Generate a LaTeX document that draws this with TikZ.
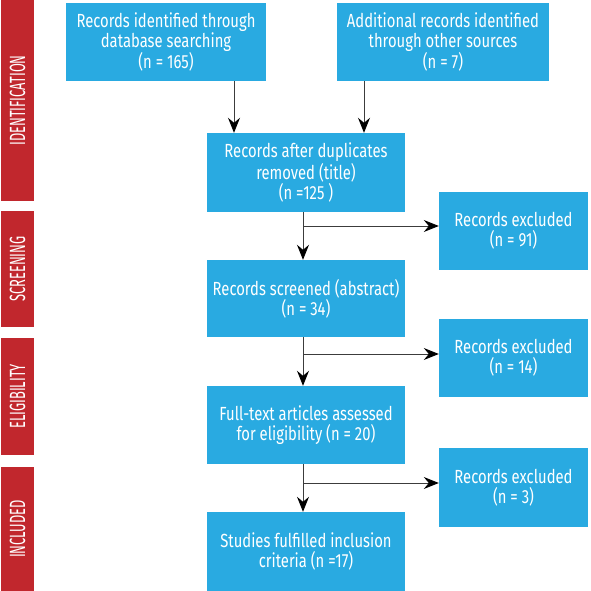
\documentclass[tikz,border=0pt]{standalone}
\usepackage{fontspec}
\setmainfont{Fira Sans}[FakeStretch=0.78]
\newfontfamily\barfont{Fira Sans}[FakeStretch=0.585]
\usetikzlibrary{arrows.meta}
\definecolor{boxblue}{RGB}{41,170,225}
\definecolor{barred}{RGB}{193,39,45}
\definecolor{linegray}{RGB}{60,60,60}
\begin{document}
\begin{tikzpicture}[x=1pt,y=-1pt,
  box/.style={fill=boxblue,draw=none,text=white,align=center,inner sep=0pt,
    font=\fontsize{19}{20}\selectfont},
  bar/.style={fill=barred,draw=none,inner sep=0pt},
  bartext/.style={text=white,rotate=90,inner sep=0pt,font=\barfont\fontsize{22}{22}\selectfont},
  arr/.style={draw=linegray,line width=0.9pt,-{Stealth[length=15pt,width=12pt,inset=5pt,black]}}]
\useasboundingbox (0,0) rectangle (590,591);
% phase bars
\node[bar,minimum width=33pt,minimum height=201pt] (pid) at (17.5,100.5) {};
\node[bartext] (tid) at (pid.center) {IDENTIFICATION};
\node[bar,minimum width=33pt,minimum height=116pt] (psc) at (17.5,269) {};
\node[bartext] (tsc) at (psc.center) {SCREENING};
\node[bar,minimum width=33pt,minimum height=117pt] (pel) at (17.5,396.5) {};
\node[bartext] (tel) at (pel.center) {ELIGIBILITY};
\node[bar,minimum width=33pt,minimum height=124pt] (pin) at (17.5,529) {};
\node[bartext] (tin) at (pin.center) {INCLUDED};
% boxes
\node[box,minimum width=200pt,minimum height=78pt] (b1) at (166,42) {Records identified through\\database searching\\(n = 165)};
\node[box,minimum width=212pt,minimum height=78pt] (b2) at (443,42) {Additional records identified\\through other sources\\(n = 7)};
\node[box,minimum width=198pt,minimum height=79pt] (b3) at (306,172.5) {Records after duplicates\\removed (title)\\(n =125 )};
\node[box,minimum width=149pt,minimum height=78pt] (e1) at (513.5,231) {Records excluded\\(n = 91)};
\node[box,minimum width=198pt,minimum height=77pt] (b4) at (306,298.5) {Records screened (abstract)\\(n = 34)};
\node[box,minimum width=149pt,minimum height=78pt] (e2) at (513.5,358) {Records excluded\\(n = 14)};
\node[box,minimum width=198pt,minimum height=78pt] (b5) at (306,425) {Full-text articles assessed\\for eligibility (n = 20)};
\node[box,minimum width=149pt,minimum height=79pt] (e3) at (513.5,487.5) {Records excluded\\(n = 3)};
\node[box,minimum width=198pt,minimum height=79pt] (b6) at (306,551.5) {Studies fulfilled inclusion\\criteria (n =17)};
% connector coordinates
\coordinate (c1) at (234,0);
\coordinate (c2) at (364,0);
\coordinate (cv) at (303,0);
\coordinate (h1) at (303,226);
\coordinate (h2) at (303,354);
\coordinate (h3) at (303,483);
% connectors
\draw[arr] (b1.south -| c1) -- (b3.north -| c1);
\draw[arr] (b2.south -| c2) -- (b3.north -| c2);
\draw[arr] (b3.south -| cv) -- (b4.north -| cv);
\draw[arr] (h1) -- (e1.west |- h1);
\draw[arr] (b4.south -| cv) -- (b5.north -| cv);
\draw[arr] (h2) -- (e2.west |- h2);
\draw[arr] (b5.south -| cv) -- (b6.north -| cv);
\draw[arr] (h3) -- (e3.west |- h3);
\end{tikzpicture}
\end{document}
